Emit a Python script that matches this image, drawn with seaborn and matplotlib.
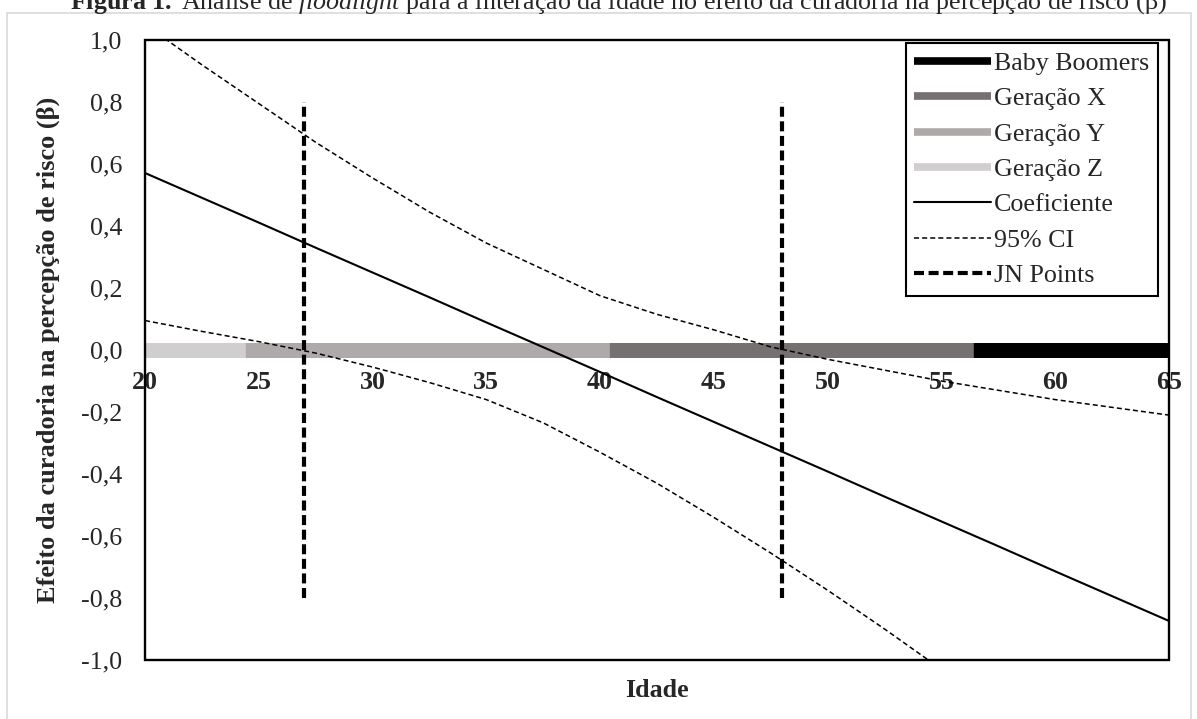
import numpy as np
import pandas as pd
import matplotlib
matplotlib.use("Agg")
import matplotlib.pyplot as plt
import seaborn as sns
from matplotlib.lines import Line2D
from matplotlib.patches import Rectangle

# ---------------- data ----------------
ages = [20, 22.5, 25, 27.5, 30, 32.5, 35, 37.5, 40, 42.5, 45, 47.5, 50, 52.5, 55, 57.5, 60, 62.5, 65]
coef = [0.571, 0.491, 0.411, 0.330, 0.250, 0.170, 0.089, 0.009, -0.071, -0.152,
        -0.232, -0.312, -0.392, -0.473, -0.553, -0.633, -0.714, -0.794, -0.874]
ci_upper = [1.05, 0.92, 0.795, 0.67, 0.555, 0.445, 0.345, 0.26, 0.175, 0.115,
            0.065, 0.01, -0.03, -0.065, -0.10, -0.13, -0.16, -0.185, -0.21]
ci_lower = [0.095, 0.06, 0.027, -0.01, -0.055, -0.105, -0.16, -0.235, -0.33, -0.43,
            -0.54, -0.655, -0.775, -0.90, -1.03, -1.16, -1.29, -1.42, -1.55]

gen_names = ["Geração Z", "Geração Y", "Geração X", "Baby Boomers"]
gen_start = [20, 24.4, 40.4, 56.4]
gen_end = [24.4, 40.4, 56.4, 65]
gen_colors = ["#D0CECE", "#AEAAAA", "#767171", "#000000"]

jn_points = [27.0, 48.0]
jn_range = [-0.8, 0.8]

x_ticks = [20, 25, 30, 35, 40, 45, 50, 55, 60, 65]
x_tick_labels = ["20", "25", "30", "35", "40", "45", "50", "55", "60", "65"]
y_ticks = [-1.0, -0.8, -0.6, -0.4, -0.2, 0.0, 0.2, 0.4, 0.6, 0.8, 1.0]
y_tick_labels = ["-1,0", "-0,8", "-0,6", "-0,4", "-0,2", "0,0", "0,2", "0,4", "0,6", "0,8", "1,0"]

title = (r"$\mathbf{Figura\ 1.}$ Análise de $\mathit{floodlight}$ para a interação da idade "
         r"no efeito da curadoria na percepção de risco (β)")

# ---------------- style ----------------
sns.set_style("white")
plt.rcParams["font.family"] = ["Liberation Serif", "DejaVu Serif"]
plt.rcParams["mathtext.fontset"] = "custom"
plt.rcParams["mathtext.rm"] = "Liberation Serif"
plt.rcParams["mathtext.bf"] = "Liberation Serif:bold"
plt.rcParams["mathtext.it"] = "Liberation Serif:italic"

FS = 18.7

df = pd.DataFrame({"Idade": ages, "Coef": coef, "Upper": ci_upper, "Lower": ci_lower})

fig = plt.figure(figsize=(11.97, 7.19), dpi=100)
ax = fig.add_axes([145 / 1197, 1 - 660 / 719, 1024 / 1197, 620 / 719])

# generation bands along zero
for name, s, e, c in zip(gen_names, gen_start, gen_end, gen_colors):
    sns.lineplot(x=[s, e], y=[0, 0], color=c, lw=10.8, ax=ax, zorder=1,
                 solid_capstyle="butt", legend=False)

# coefficient and CI
sns.lineplot(data=df, x="Idade", y="Coef", color="black", lw=1.5, ax=ax, zorder=3)
l_up = sns.lineplot(data=df, x="Idade", y="Upper", color="black", lw=1.1, ax=ax, zorder=3).lines[-1]
l_up.set_dashes((3.3, 2.0))
l_lo = sns.lineplot(data=df, x="Idade", y="Lower", color="black", lw=1.1, ax=ax, zorder=3).lines[-1]
l_lo.set_dashes((3.3, 2.0))

# Johnson-Neyman points
ax.vlines(jn_points, jn_range[0], jn_range[1], colors="black", linewidth=3,
          linestyles=[(0, (2.4, 1.1))], zorder=4)

ax.set_xlim(20, 65)
ax.set_ylim(-1, 1)

for sp in ax.spines.values():
    sp.set_visible(False)
ax.spines["bottom"].set_position(("data", 0))
ax.add_patch(Rectangle((0, 0), 1, 1, transform=ax.transAxes, fill=False,
                       edgecolor="black", lw=1.7, clip_on=False, zorder=6))

ax.set_xticks(x_ticks)
ax.set_xticklabels(x_tick_labels, fontweight="bold")
ax.set_yticks(y_ticks)
ax.set_yticklabels(y_tick_labels)
ax.tick_params(axis="x", length=0, pad=15, labelsize=FS)
ax.tick_params(axis="y", length=0, pad=16.5, labelsize=FS)

ax.set_xlabel("Idade", fontsize=FS, fontweight="bold")
ax.xaxis.set_label_coords(0.5, -0.03)
ax.set_ylabel("Efeito da curadoria na percepção de risco (β)", fontsize=19, fontweight="bold")
ax.yaxis.set_label_coords(-0.083, 0.5)

# legend
handles = [Line2D([], [], color=c, lw=5.5, solid_capstyle="butt") for c in gen_colors[::-1]]
labels = gen_names[::-1]
handles += [Line2D([], [], color="black", lw=1.5),
            Line2D([], [], color="black", lw=1.1, dashes=(3.3, 2.0)),
            Line2D([], [], color="black", lw=3, dashes=(2.4, 1.1))]
labels += ["Coeficiente", "95% CI", "JN Points"]
leg = ax.legend(handles, labels, loc="upper right", bbox_to_anchor=(1 - 8 / 1024, 1),
                fontsize=FS, frameon=True,
                fancybox=False, edgecolor="black", framealpha=1, borderaxespad=0.12,
                handlelength=2.95, handletextpad=0.12, labelspacing=0.47, borderpad=0.33)
leg.get_frame().set_linewidth(1.5)
leg.set_zorder(7)

# figure border and (clipped, as in the reference) title
fig.patches.append(Rectangle((7 / 1197, -0.05), 1184 / 1197, 1.05 - 13 / 719,
                             transform=fig.transFigure, fill=False,
                             edgecolor="#d9d9d9", lw=1.2))
fig.text(618 / 1197, 1 - 9 / 719, title, ha="center", va="baseline", fontsize=FS)

fig.savefig("out.png", dpi=100)
